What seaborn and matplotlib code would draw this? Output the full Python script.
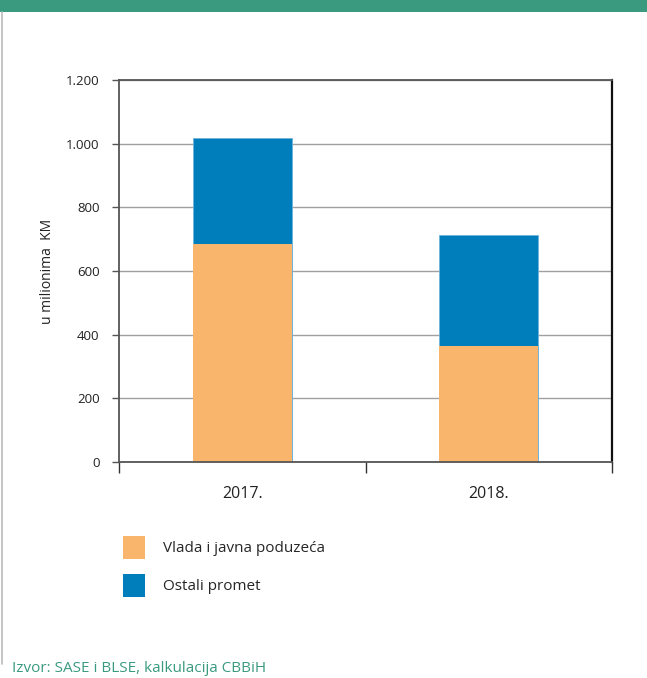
import numpy as np
import pandas as pd
import matplotlib
matplotlib.use("Agg")
import matplotlib.pyplot as plt
import seaborn as sns
from matplotlib.patches import Patch

# values (millions of KM)
years = ["2017.", "2018."]
vlada = [684, 365]          # Vlada i javna poduzeća
ostali = [334, 348]         # Ostali promet
y_ticks = [0, 200, 400, 600, 800, 1000, 1200]
y_tick_labels = ["0", "200", "400", "600", "800", "1.000", "1.200"]

ORANGE = "#F9B56B"
BLUE = "#007DBB"
GREEN = "#3A9A80"

df = pd.DataFrame({"year": years, "vlada": vlada, "ostali": ostali})
df["total"] = df["vlada"] + df["ostali"]

sns.set_theme(style="white")
plt.rcParams["font.family"] = ["Open Sans", "DejaVu Sans"]

fig = plt.figure(figsize=(6.47, 6.78), dpi=100)
ax = fig.add_axes([119 / 647, 1 - 462 / 678, (612 - 119) / 647, (462 - 80) / 678])

# stacked bars: full height in blue, orange part drawn over it
sns.barplot(data=df, x="year", y="total", color=BLUE, width=0.4, saturation=1,
            edgecolor="#6FB3DA", linewidth=0.6, ax=ax, zorder=2)
sns.barplot(data=df, x="year", y="vlada", color=ORANGE, width=0.4, saturation=1,
            linewidth=0, ax=ax, zorder=3)

ax.set_xlim(-0.5, 1.5)
ax.set_ylim(0, 1200)
ax.set_yticks(y_ticks)
ax.set_yticklabels(y_tick_labels, fontsize=9.5, color="#222222")
ax.yaxis.grid(True, color="#A0A0A0", linewidth=1)
ax.set_axisbelow(True)
ax.tick_params(axis="y", length=5, width=1, color="#555555", pad=9, left=True)

# category labels without ticks, separators at category boundaries
ax.tick_params(axis="x", which="major", length=0, labelsize=11.5, pad=17,
               labelcolor="#222222")
ax.set_xticks([-0.5, 0.5, 1.5], minor=True)
ax.tick_params(axis="x", which="minor", length=8, width=1, color="#333333",
               bottom=True)

ax.set_xlabel("")
ax.set_ylabel("u milionima  KM", fontsize=10, color="#222222", labelpad=8)

for side in ["left", "top", "bottom"]:
    ax.spines[side].set_color("#555555")
    ax.spines[side].set_linewidth(1.3)
ax.spines["right"].set_color("#111111")
ax.spines["right"].set_linewidth(1.6)
ax.spines["bottom"].set_zorder(5)

handles = [Patch(facecolor=ORANGE, edgecolor="none"),
           Patch(facecolor=BLUE, edgecolor="none")]
fig.legend(handles, ["Vlada i javna poduzeća", "Ostali promet"],
           loc="upper left", bbox_to_anchor=(123 / 647, 1 - 536 / 678),
           frameon=False, fontsize=11, handlelength=1.45, handleheight=1.9,
           handletextpad=1.15, labelspacing=1.0, borderpad=0, borderaxespad=0)

# page decoration: green header band, left border, source note
fig.patches.append(plt.Rectangle((0, 1 - 12 / 678), 1, 12 / 678, transform=fig.transFigure,
                                 facecolor=GREEN, edgecolor="none"))
fig.lines.append(plt.Line2D([2 / 647, 2 / 647], [1 - 664 / 678, 1 - 12 / 678],
                            transform=fig.transFigure, color="#BBBBBB", linewidth=1.2))
fig.text(12 / 647, 1 - 668 / 678, "Izvor: SASE i BLSE, kalkulacija CBBiH",
         fontsize=11, color="#3A9A80", va="center", ha="left")

fig.savefig("out.png", dpi=100)
